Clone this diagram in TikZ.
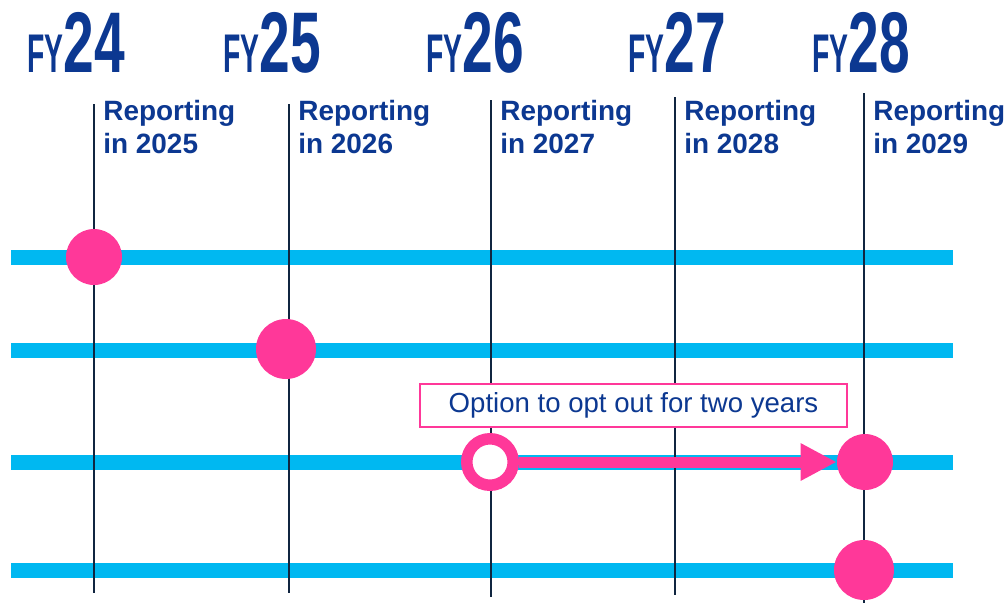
\documentclass[tikz,border=0pt]{standalone}
\usepackage{fontspec}
\setmainfont{Liberation Sans}
\newfontfamily\fyfont{Liberation Sans}[FakeStretch = 0.52]
\newfontfamily\yrfont{Liberation Sans}[FakeStretch = 0.64]
\usetikzlibrary{arrows.meta}

\definecolor{navy}{RGB}{12,56,145}
\definecolor{yearline}{RGB}{16,37,64}
\definecolor{laneblue}{RGB}{0,184,241}
\definecolor{hotpink}{RGB}{255,56,153}

\begin{document}
\begin{tikzpicture}[x = 0.02cm, y = -0.02cm, > = {Triangle[length = 0.72cm, width = 0.7cm]},
	lane/.style = {line width = 0.3cm, color = laneblue},
	yearrule/.style = {line width = 0.05cm, color = yearline},
	dot/.style = {circle, fill = hotpink, inner sep = 0, minimum size = 1.12cm},
	ring/.style = {circle, draw = hotpink, fill = white, line width = 0.23cm, inner sep = 0, minimum size = 0.93cm},
	fy/.style = {anchor = base west, inner sep = 0, text = navy},
	report/.style = {anchor = north west, inner sep = 0, align = left, text = navy, font = \bfseries\fontsize{15.9}{18.7}\selectfont},
	optbox/.style = {draw = hotpink, line width = 0.03cm, fill = white, text = navy, minimum width = 8.54cm, minimum height = 0.86cm, font = \fontsize{15.7}{18}\selectfont}]

	% Canvas
	
	\useasboundingbox (0, 0) rectangle (1004, 603);
	
	% Lanes
	
	\foreach \y in {257, 350, 462, 570}
		\draw [lane] (11, \y) -- (953, \y);
	
	% Year rules, headings and reporting labels
	
	\foreach \x/\top/\bot/\yr/\fx/\rep in {94/104/593/24/27/2025, 289/104/593/25/223/2026, 491/100/597/26/426/2027, 675/97/595/27/628/2028, 864/93/603/28/812/2029}
	{
		\draw [yearrule] (\x, \top) coordinate (top\yr) -- (\x, \bot) coordinate (bot\yr);
		\node [fy] (head\yr) at (\fx, 72) {{\fyfont\fontsize{31}{32}\bfseries FY}{\yrfont\fontsize{49}{50}\bfseries \yr}};
		\node [report] (rep\yr) at (\x + 9, 100) {Reporting\\in \rep};
	}
	
	% Opt-out option
	
	\node [optbox] (opt) at (633.5, 405.5) {Option to opt out for two years};
	
	% Reporting starts
	
	\node [dot] (start24) at (94, 257) {};
	\node [dot, minimum size = 1.2cm] (start25) at (286, 349) {};
	\node [ring] (optout) at (490, 462) {};
	\node [dot] (optin) at (865, 462) {};
	\node [dot, minimum size = 1.2cm] (start28) at (864, 570) {};
	
	\draw [->, line width = 0.22cm, hotpink] (optout.east) -- (optin.west);

\end{tikzpicture}
\end{document}
